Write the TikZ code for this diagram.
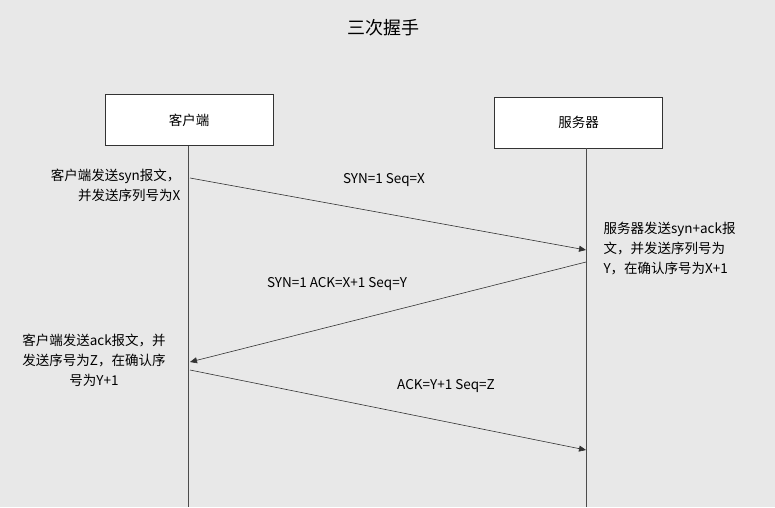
\documentclass[tikz,border=0pt]{standalone}
\usepackage{fontspec}
\setmainfont{Noto Sans CJK SC}
\usetikzlibrary{arrows.meta}
\begin{document}
\begin{tikzpicture}[x=1pt,y=-1pt,
  box/.style={draw=black!80,fill=white,minimum width=168pt,minimum height=51pt,font=\fontsize{13.5}{16}\selectfont},
  life/.style={draw=black!70,line width=0.6pt},
  msg/.style={draw=black!80,line width=0.6pt,-{Triangle[length=7pt,width=6pt]}},
  lbl/.style={font=\fontsize{13.5}{16}\selectfont},
  note/.style={font=\fontsize{13.5}{20}\selectfont}]
\fill[black!9] (0,0) rectangle (775,507);
\useasboundingbox (0,0) rectangle (775,507);
\node[font=\fontsize{18}{20}\selectfont] (title) at (383,28) {三次握手};
\node[box] (c) at (189,120) {客户端};
\node[box] (s) at (578.5,122.5) {服务器};
\coordinate (cb) at (188,507);
\coordinate (sb) at (586,507);
\draw[life] (c.south -| cb) -- (cb);
\draw[life] (s.south -| sb) -- (sb);
\coordinate (a1) at (190,178); \coordinate (b1) at (586,250);
\coordinate (a2) at (586,262); \coordinate (b2) at (190,362);
\coordinate (a3) at (190,370); \coordinate (b3) at (586,450);
\draw[msg] (a1) -- (b1);
\draw[msg] (a2) -- (b2);
\draw[msg] (a3) -- (b3);
\node[lbl] (l1) at (384,180) {SYN=1 Seq=X};
\node[lbl] (l2) at (337,284) {SYN=1 ACK=X+1 Seq=Y};
\node[lbl] (l3) at (446,386) {ACK=Y+1 Seq=Z};
\node[note,align=right,anchor=east] (n1) at (184,185) {客户端发送syn报文，\\并发送序列号为X};
\node[note,align=left,anchor=west] (n2) at (600,249) {服务器发送syn+ack报\\文，并发送序列号为\\Y，在确认序号为X+1};
\node[note,align=center] (n3) at (94,360) {客户端发送ack报文，并\\发送序号为Z，在确认序\\号为Y+1};
\end{tikzpicture}
\end{document}
